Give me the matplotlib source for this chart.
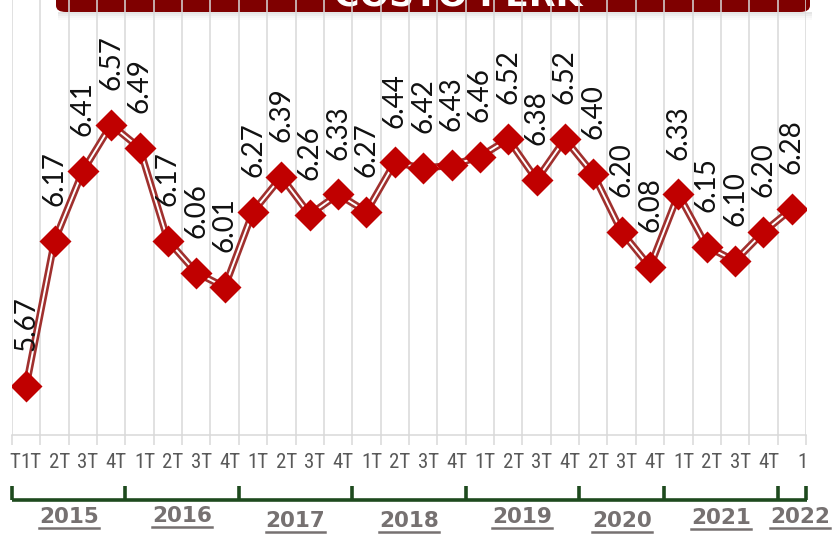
import matplotlib
matplotlib.use("Agg")
import matplotlib.pyplot as plt
import numpy as np
from matplotlib.patches import FancyBboxPatch, Rectangle
from matplotlib.transforms import blended_transform_factory

# Data
values = [5.67, 6.17, 6.41, 6.57, 6.49, 6.17, 6.06, 6.01,
          6.27, 6.39, 6.26, 6.33, 6.27, 6.44, 6.42, 6.43,
          6.46, 6.52, 6.38, 6.52, 6.40, 6.20, 6.08, 6.33,
          6.15, 6.10, 6.20, 6.28]
quarter_labels = ["T", "1T", "2T", "3T", "4T", "1T", "2T", "3T", "4T",
                  "1T", "2T", "3T", "4T", "1T", "2T", "3T", "4T",
                  "1T", "2T", "3T", "4T", "2T", "3T", "4T",
                  "1T", "2T", "3T", "4T", "1"]
years = ["2015", "2016", "2017", "2018", "2019", "2020", "2021", "2022"]
points_per_year = [4, 4, 4, 4, 4, 3, 4, 1]
title = "COSTO PERK"

W, H = 837, 535
DPI = 100
fig = plt.figure(figsize=(W / DPI, H / DPI), dpi=DPI)
fig.patch.set_facecolor("white")

def px(x, y):
    # pixel (from top-left) -> figure fraction
    return x / W, 1 - y / H

# Title banner (mostly cut off at the top)
banner = FancyBboxPatch((px(56, 0)[0], px(0, 12)[1]), (810 - 56) / W, 30 / H,
                        boxstyle="round,pad=0,rounding_size=0.012",
                        transform=fig.transFigure, facecolor="#7f0000",
                        edgecolor="none", zorder=-3)
fig.patches.append(banner)
for i, a in enumerate([0.10, 0.07, 0.04, 0.02]):
    sh = Rectangle((px(58, 12 + i * 2)[0], px(0, 14 + i * 2)[1]), (812 - 58) / W, 2 / H,
                   transform=fig.transFigure, facecolor="black", alpha=a,
                   edgecolor="none", zorder=-4)
    fig.patches.append(sh)
fig.text(px(458, 0)[0], px(0, 6)[1], title, color="white", fontsize=25,
         fontweight="bold", ha="center", va="baseline", zorder=-2,
         family="DejaVu Sans")

# Main axes
left, right, top, bottom = 12, 806, 0, 435
ax = fig.add_axes([left / W, 1 - bottom / H, (right - left) / W, (bottom - top) / H])
ax.set_zorder(0)
ax.patch.set_alpha(0)

x = np.arange(len(values))
ax.set_xlim(-0.5, len(values) - 0.5)
ax.set_ylim(5.5, 7.0)

bounds = np.arange(-0.5, len(values), 1.0)
ax.set_xticks(bounds)
ax.set_xticklabels([])
ax.set_yticks([])
ax.tick_params(axis="x", length=7.5, width=1.1, color="#d9d9d9", direction="out")
ax.grid(axis="x", color="#d9d9d9", linewidth=1.1)
ax.set_axisbelow(True)
for s in ["top", "left", "right"]:
    ax.spines[s].set_visible(False)
ax.spines["bottom"].set_color("#d9d9d9")
ax.spines["bottom"].set_linewidth(1.1)

# Double line + diamonds
ax.plot(x, values, color="#a0302e", linewidth=5.2, zorder=3, solid_capstyle="round")
ax.plot(x, values, color="white", linewidth=1.4, zorder=4)
ax.plot(x, values, linestyle="none", marker="D", markersize=16,
        markerfacecolor="#c00000", markeredgecolor="none", zorder=5)

for xi, v in zip(x, values):
    ax.annotate(f"{v:.2f}", (xi, v), xytext=(0, 25), textcoords="offset points",
                rotation=90, ha="center", va="bottom", fontsize=20,
                family="Lato", color="#111111", zorder=6)

# Quarter labels under the axis
narrow = ["Roboto Condensed", "Liberation Sans Narrow", "Roboto", "DejaVu Sans"]
trans = blended_transform_factory(ax.transData, ax.transAxes)
lab_y = -(462 - bottom) / (bottom - top)
for i, (b, lab) in enumerate(zip(bounds, quarter_labels)):
    if i == 0:
        ax.annotate(lab, (b, lab_y), xycoords=trans, xytext=(-3, 0),
                    textcoords="offset pixels", ha="left", va="center",
                    fontsize=15, color="#595959", family=narrow,
                    annotation_clip=False)
    else:
        ax.annotate(lab, (b, lab_y), xycoords=trans, xytext=(1.5, 0),
                    textcoords="offset pixels", ha="right", va="center",
                    fontsize=15, color="#595959", family=narrow,
                    annotation_clip=False)

# Year bracket
green = "#1e4a1e"
line_y = -(500 - bottom) / (bottom - top)
tick_top = -(486 - bottom) / (bottom - top)
ax.plot([-0.5, len(values) - 0.5 + 0.05], [line_y, line_y], transform=trans,
        color=green, linewidth=2.6, clip_on=False, solid_capstyle="butt")
edges = np.concatenate([[0], np.cumsum(points_per_year)]) - 0.5
for e in edges:
    ax.plot([e, e], [line_y, tick_top], transform=trans, color=green,
            linewidth=2.6, clip_on=False, solid_capstyle="butt")

year_y_px = [517, 516, 521, 521, 517, 521, 518, 517]
year_texts = []
for i, (yr, yy) in enumerate(zip(years, year_y_px)):
    cx = (edges[i] + edges[i + 1]) / 2
    if i == len(years) - 1:
        cx = edges[i] + 0.78
    t = ax.text(cx, -(yy - bottom) / (bottom - top), yr, transform=trans,
                ha="center", va="center", fontsize=15.5, fontweight="bold",
                color="#767171", family="DejaVu Sans", clip_on=False)
    year_texts.append(t)

# underline the year labels
fig.canvas.draw()
renderer = fig.canvas.get_renderer()
for t in year_texts:
    bb = t.get_window_extent(renderer).transformed(fig.transFigure.inverted())
    uy = bb.y0 - 1.0 / H
    fig.add_artist(plt.Line2D([bb.x0, bb.x1], [uy, uy], transform=fig.transFigure,
                              color="#767171", linewidth=1.8))

fig.savefig("out.png", dpi=DPI, facecolor="white")
